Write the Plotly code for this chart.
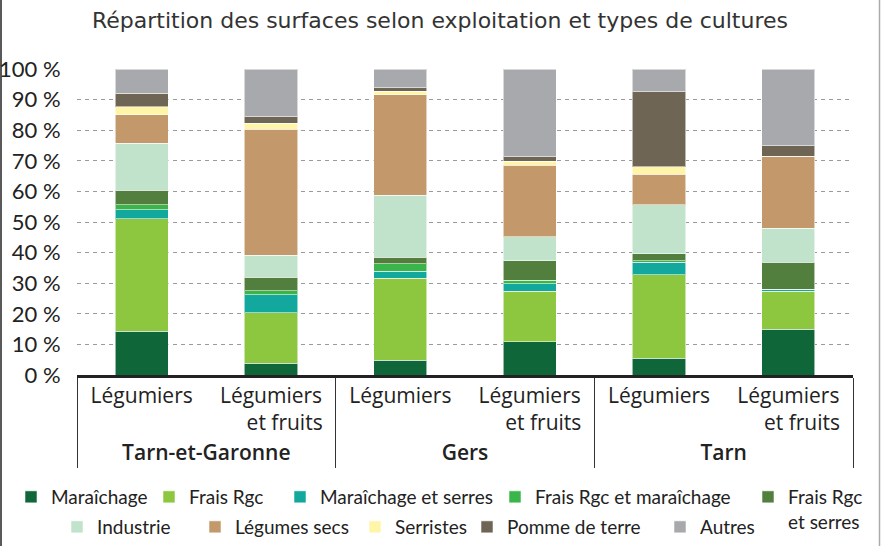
import plotly.graph_objects as go

NB = "\u00a0" * 5
departements = ["<span style='font-weight:600'>Tarn-et-Garonne</span>"] * 2 + \
               ["<span style='font-weight:600'>Gers</span>"] * 2 + \
               ["<span style='font-weight:600'>Tarn</span>"] * 2
exploitations = ["Légumiers", "Légumiers<br>" + NB + "et fruits", "Légumiers",
                 "Légumiers<br>" + NB + "et fruits", "Légumiers", "Légumiers<br>" + NB + "et fruits"]

series_names = ["Maraîchage", "Frais Rgc", "Maraîchage et serres", "Frais Rgc et maraîchage",
                "Frais Rgc<br>et serres", "Industrie", "Légumes secs", "Serristes",
                "Pomme de terre", "Autres"]

maraichage = [14.3, 3.8, 4.9, 10.9, 5.5, 15.0]
frais_rgc = [36.7, 16.5, 26.7, 16.5, 27.3, 12.3]
maraichage_serres = [3.0, 5.9, 2.3, 2.4, 4.0, 0.7]
frais_rgc_maraichage = [1.6, 1.3, 2.4, 1.1, 0.5, 0.0]
frais_rgc_serres = [4.7, 4.5, 2.2, 6.4, 2.4, 8.8]
industrie = [15.5, 7.2, 20.2, 7.9, 15.9, 11.2]
legumes_secs = [9.3, 41.1, 32.9, 23.4, 10.0, 23.5]
serristes = [2.5, 1.9, 1.2, 1.3, 2.4, 0.0]
pomme_de_terre = [4.5, 2.2, 1.1, 1.5, 24.6, 3.5]
autres = [7.9, 15.6, 6.1, 28.6, 7.4, 25.0]

series_values = [maraichage, frais_rgc, maraichage_serres, frais_rgc_maraichage,
                 frais_rgc_serres, industrie, legumes_secs, serristes, pomme_de_terre, autres]
colors = ["#0f6638", "#8dc63f", "#12a89d", "#3ab54a", "#527f3d",
          "#c1e3cb", "#c3996b", "#fff5a8", "#6e6555", "#a8a9ad"]

y_ticks = [0, 10, 20, 30, 40, 50, 60, 70, 80, 90, 100]
y_ticktext = [f"{v} %" for v in y_ticks]

# legend entry positions (symbol centre x, row centre y) in pixels
legend_pos = [(31, 497), (169, 497), (300, 497), (515, 497), (768, 497),
              (77, 527), (215, 527), (375, 527), (487, 527), (680, 527)]

FONT = "Lato, 'Open Sans', sans-serif"
W, H = 881, 546
L, R, T, B = 77, 28, 69, 171
pw = W - L - R

fig = go.Figure()
legend_layouts = {}
for i, (name, vals, col) in enumerate(zip(series_names, series_values, colors)):
    lname = "legend" if i == 0 else f"legend{i + 1}"
    fig.add_trace(go.Bar(
        x=[departements, exploitations], y=vals, name=name, legend=lname,
        marker=dict(color=col, line=dict(color="rgba(255,255,255,0.55)", width=1)),
    ))
    sx, sy = legend_pos[i]
    legend_layouts[lname] = dict(
        orientation="h", xref="container", yref="container",
        x=(sx - 20) / W, xanchor="left", y=1 - (sy - 19) / H, yanchor="top",
        font=dict(size=19, color="#222", family=FONT), valign="top",
        itemwidth=30, bgcolor="rgba(0,0,0,0)", borderwidth=0,
    )


def px_x(p):
    return (p - L) / pw


fig.update_layout(
    width=W, height=H,
    margin=dict(l=L, r=R, t=T, b=B, autoexpand=False),
    barmode="stack",
    bargap=0.59,
    plot_bgcolor="white", paper_bgcolor="white",
    font=dict(family=FONT, color="#222", size=20),
    title=dict(text="Répartition des surfaces selon exploitation et types de cultures",
               x=440 / W, xanchor="center", xref="container", yref="container",
               y=1 - 20 / H, yanchor="middle",
               font=dict(family="'DejaVu Sans', sans-serif", size=22, color="#333")),
    yaxis=dict(range=[0, 100], tickvals=y_ticks, ticktext=y_ticktext, automargin=False,
               showgrid=True, gridcolor="#9a9a9a", griddash="4px,4px", gridwidth=1.3,
               zeroline=False, showline=False,
               ticks="outside", ticklen=11, tickcolor="rgba(0,0,0,0)",
               tickfont=dict(size=22, color="#222", family=FONT)),
    xaxis=dict(type="multicategory", showline=True, linecolor="#222", linewidth=2.5,
               showdividers=True, dividercolor="#333", dividerwidth=1, automargin=False,
               ticks="", tickfont=dict(size=21, color="#222", family="'Open Sans', sans-serif")),
    showlegend=True,
    hovermode=False,
    **legend_layouts,
)

fig.add_shape(type="line", xref="paper", yref="paper",
              x0=px_x(1), x1=px_x(1), y0=-2, y1=2, line=dict(color="#222", width=1.5))
fig.add_shape(type="line", xref="paper", yref="paper",
              x0=px_x(879.5), x1=px_x(879.5), y0=-2, y1=2, line=dict(color="#aaa", width=1.5))

fig.write_html("out.html", config={"displayModeBar": False},
               post_script="document.body.style.margin='0';")
